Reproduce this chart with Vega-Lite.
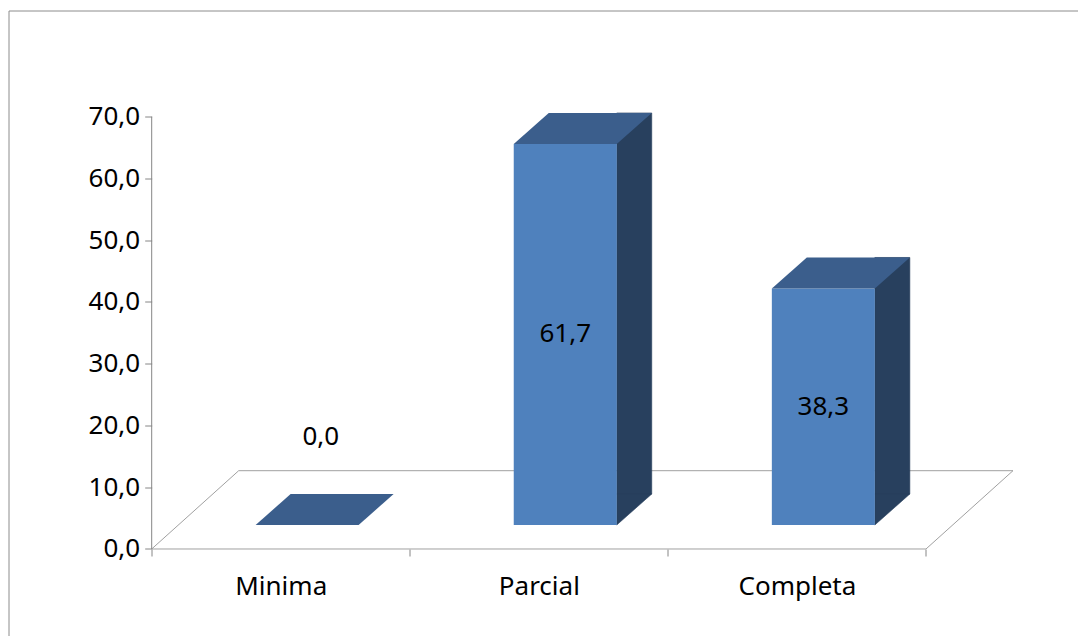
{
  "$schema": "https://vega.github.io/schema/vega-lite/v6.json",
  "width": 1078,
  "height": 636,
  "autosize": {"type": "none"},
  "padding": {"left": 8.5, "top": 10.5, "right": 0, "bottom": 0},
  "background": "white",
  "config": {
    "view": {"stroke": "#8c8c8c", "strokeWidth": 1},
    "locale": {"number": {"decimal": ",", "thousands": ".", "grouping": [3], "currency": ["", " €"]}},
    "font": "Noto Sans, sans-serif",
    "text": {"font": "Noto Sans, sans-serif"},
    "axis": {"labelFont": "Noto Sans, sans-serif", "labelFontSize": 26, "labelColor": "#000000", "tickColor": "#868686", "grid": false, "domain": false}
  },
  "data": {"values": [
    {"category": "Minima", "value": 0},
    {"category": "Parcial", "value": 61.7},
    {"category": "Completa", "value": 38.3}
  ]},
  "layer": [
    {
      "layer": [
        {
          "transform": [{"filter": "datum.category == 'Parcial'"}],
          "mark": {"type": "point", "shape": "M-387.15,0L387.15,0L474.15,-78.3L-300.15,-78.3Z", "size": 4, "filled": false, "stroke": "#a0a0a0", "strokeWidth": 1, "opacity": 1},
          "encoding": {
            "x": {"field": "category", "type": "nominal", "sort": ["Minima", "Parcial", "Completa"], "title": null,
              "scale": {"range": [0, 1078], "paddingInner": 0, "paddingOuter": 0.58835, "align": 0.4715, "round": false},
              "axis": {"orient": "bottom", "offset": -97.5, "tickBand": "extent", "tickSize": 7, "labelPadding": 38.5, "labelBaseline": "alphabetic", "labelAngle": 0, "domain": false, "grid": false, "tickColor": "#868686", "labelFontSize": 26, "labelColor": "#000000", "title": null}},
            "y": {"datum": 0, "type": "quantitative", "title": null,
              "scale": {"domain": [-15.788, 87.197], "nice": false, "zero": false},
              "axis": {"values": [0, 10, 20, 30, 40, 50, 60, 70], "format": ".1f", "offset": -143.2, "tickSize": 7, "labelPadding": 5, "domain": false, "grid": false, "tickColor": "#868686", "labelFontSize": 26, "labelColor": "#000000", "title": null}}
          }
        },
        {
          "transform": [{"filter": "datum.category == 'Minima'"}],
          "mark": {"type": "rule", "color": "#868686", "strokeWidth": 1},
          "encoding": {
            "x": {"field": "category", "type": "nominal", "sort": ["Minima", "Parcial", "Completa"], "bandPosition": 0, "title": null},
            "y": {"datum": 0, "type": "quantitative", "title": null},
            "y2": {"datum": 70}
          }
        },
        {
          "transform": [{"filter": "datum.value > 0"}],
          "mark": {"type": "bar", "width": 35, "xOffset": 95.4, "yOffset": -55, "y2Offset": -55, "color": "#28405e", "stroke": "#28405e", "strokeWidth": 0.6},
          "encoding": {
            "x": {"field": "category", "type": "nominal", "sort": ["Minima", "Parcial", "Completa"], "title": null},
            "y": {"field": "value", "type": "quantitative", "title": null},
            "y2": {"datum": 0}
          }
        },
        {
          "transform": [{"filter": "datum.value > 0"}],
          "mark": {"type": "point", "shape": "M51.5,-31L86.5,-31L51.5,0Z", "size": 4, "filled": true, "color": "#28405e", "stroke": "#28405e", "strokeWidth": 0.6, "opacity": 1, "xOffset": 26.4, "yOffset": -24},
          "encoding": {
            "x": {"field": "category", "type": "nominal", "sort": ["Minima", "Parcial", "Completa"], "title": null},
            "y": {"datum": 0, "type": "quantitative", "title": null}
          }
        },
        {
          "mark": {"type": "bar", "width": 103, "xOffset": 26.4, "yOffset": -24, "y2Offset": -24, "color": "#4f81bd"},
          "encoding": {
            "x": {"field": "category", "type": "nominal", "sort": ["Minima", "Parcial", "Completa"], "title": null},
            "y": {"field": "value", "type": "quantitative", "title": null},
            "y2": {"datum": 0}
          }
        },
        {
          "mark": {"type": "point", "shape": "M-51.5,0L51.5,0L86.5,-31L-16.5,-31Z", "size": 4, "filled": true, "color": "#3b5e8c", "opacity": 1, "xOffset": 26.4, "yOffset": -24},
          "encoding": {
            "x": {"field": "category", "type": "nominal", "sort": ["Minima", "Parcial", "Completa"], "title": null},
            "y": {"field": "value", "type": "quantitative", "title": null}
          }
        },
        {
          "transform": [{"filter": "datum.value == 0"}],
          "mark": {"type": "text", "fontSize": 26, "color": "#000000", "align": "center", "baseline": "middle", "xOffset": 40, "yOffset": -112},
          "encoding": {
            "x": {"field": "category", "type": "nominal", "sort": ["Minima", "Parcial", "Completa"], "title": null},
            "y": {"field": "value", "type": "quantitative", "title": null},
            "text": {"field": "value", "type": "quantitative", "format": ".1f"}
          }
        }
      ]
    },
    {
      "transform": [{"filter": "datum.value > 0"}],
      "mark": {"type": "text", "fontSize": 26, "color": "#000000", "align": "center", "baseline": "middle", "xOffset": 26.4, "yOffset": -24},
      "encoding": {
        "x": {"field": "category", "type": "nominal", "sort": ["Minima", "Parcial", "Completa"], "title": null},
        "y": {"field": "value", "type": "quantitative", "title": null, "scale": {"domain": [-31.576, 174.394], "nice": false, "zero": false}, "axis": null},
        "text": {"field": "value", "type": "quantitative", "format": ".1f"}
      }
    }
  ],
  "resolve": {"scale": {"y": "independent"}}
}
